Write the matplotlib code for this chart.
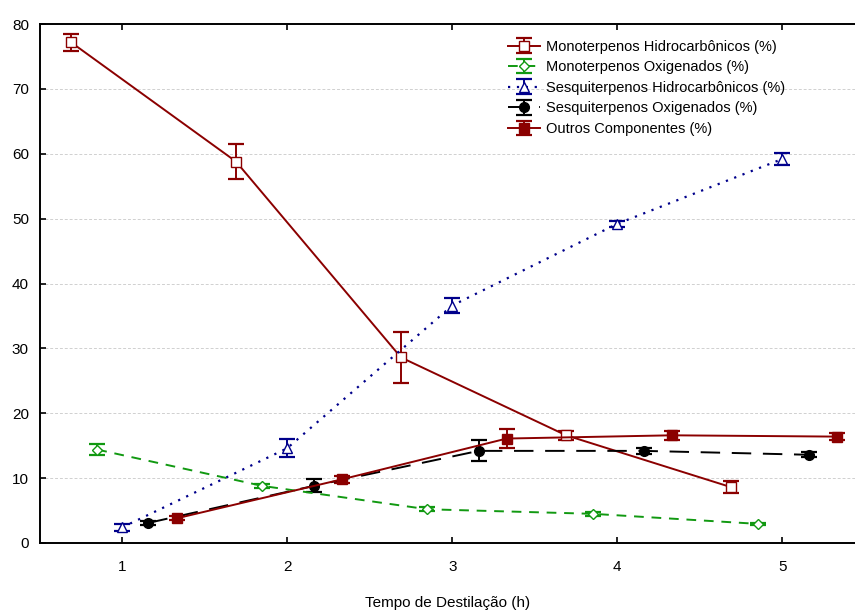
import matplotlib.pyplot as plt

plt.rcParams['font.family'] = ['Liberation Sans', 'DejaVu Sans']

# dados
tempo = [1, 2, 3, 4, 5]

mono_hidro = [77.2, 58.8, 28.6, 16.6, 8.6]
mono_hidro_err = [1.3, 2.7, 4.0, 0.7, 0.9]

mono_oxi = [14.4, 8.8, 5.2, 4.5, 2.95]
mono_oxi_err = [0.8, 0.3, 0.3, 0.3, 0.2]

sesq_hidro = [2.4, 14.6, 36.6, 49.2, 59.2]
sesq_hidro_err = [0.5, 1.4, 1.2, 0.5, 0.9]

sesq_oxi = [3.1, 8.8, 14.2, 14.2, 13.6]
sesq_oxi_err = [0.3, 1.0, 1.6, 0.5, 0.4]

outros = [3.8, 9.8, 16.1, 16.6, 16.4]
outros_err = [0.3, 0.5, 1.5, 0.7, 0.6]

rotulos = ['Monoterpenos Hidrocarbônicos (%)', 'Monoterpenos Oxigenados (%)',
           'Sesquiterpenos Hidrocarbônicos (%)', 'Sesquiterpenos Oxigenados (%)',
           'Outros Componentes (%)']

vermelho = '#8b0000'
verde = '#119911'
azul = '#00008b'

fig = plt.figure(figsize=(8.55, 6.1), dpi=100)
ax = fig.add_axes([40 / 855, 1 - 543 / 610, 815 / 855, 519 / 610])

series = [
    (-0.31, mono_hidro, mono_hidro_err, vermelho, 's', 'white', '-', rotulos[0]),
    (-0.15, mono_oxi, mono_oxi_err, verde, 'D', 'white', (0, (5, 4)), rotulos[1]),
    (0.0, sesq_hidro, sesq_hidro_err, azul, '^', 'white', (0, (1, 3)), rotulos[2]),
    (0.16, sesq_oxi, sesq_oxi_err, 'black', 'o', 'black', (0, (10, 6)), rotulos[3]),
    (0.33, outros, outros_err, vermelho, 's', vermelho, '-', rotulos[4]),
]

for desloc, y, err, cor, mk, mfc, ls, lab in series:
    x = [t + desloc for t in tempo]
    ms = 5.5 if mk == 'D' else 7
    ax.errorbar(x, y, yerr=err, color=cor, ecolor=cor, marker=mk, mfc=mfc,
                mec=cor, ms=ms, lw=1.4 if ls != (0, (1, 3)) else 1.6,
                linestyle=ls, capsize=5.5, capthick=1.6, elinewidth=1.4,
                label=lab)

ax.set_xlim(0.503, 5.44)
ax.set_ylim(0, 80)
ax.set_xticks(tempo)
ax.set_yticks(range(0, 81, 10))
ax.yaxis.grid(True, linestyle=(0, (3, 2)), color='#d0d0d0', lw=0.7)
ax.set_axisbelow(True)
ax.tick_params(direction='in', top=True, labelsize=11, length=4, width=1.2, pad=8)
ax.tick_params(axis='x', pad=12)
ax.spines['right'].set_visible(False)
for s in ['left', 'bottom', 'top']:
    ax.spines[s].set_linewidth(1.4)

ax.set_xlabel('Tempo de Destilação (h)', fontsize=11, labelpad=16)

ax.legend(loc='upper right', bbox_to_anchor=(0.93, 0.995), frameon=False,
          fontsize=10.5, handlelength=2.2, labelspacing=0.45, handletextpad=0.4)

fig.savefig('out.png', dpi=100)
